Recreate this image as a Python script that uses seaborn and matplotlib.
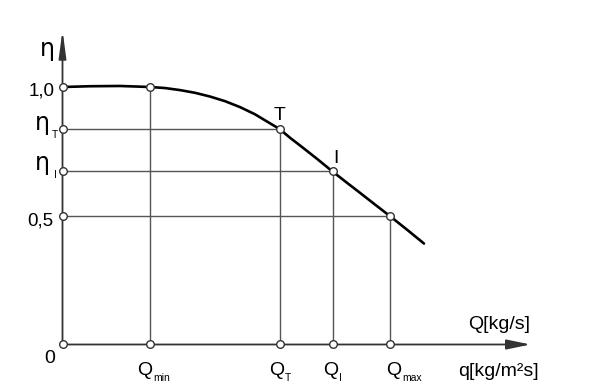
import matplotlib
matplotlib.use("Agg")
import matplotlib.pyplot as plt
import seaborn as sns
import pandas as pd

# ---- data ----
curve_q = [0.0, 0.275, 0.575, 0.875, 1.025, 1.175, 1.325, 1.475, 1.625, 1.775, 1.925, 2.045,
           2.17, 2.275, 2.405, 2.555, 2.70, 2.845, 2.985, 3.125, 3.27, 3.445, 3.615]
curve_eta = [1.0, 1.003, 1.004, 1.0, 0.996, 0.988, 0.9775, 0.963, 0.945, 0.922, 0.894, 0.866,
             0.837, 0.803, 0.764, 0.718, 0.672, 0.628, 0.586, 0.5435, 0.5, 0.446, 0.392]

point_q = [0.875, 2.17, 2.70, 3.27]          # Qmin, QT, QI, Qmax
point_eta = [1.0, 0.837, 0.672, 0.5]          # eta at those points
q_subs = ["min", "T", "I", "max"]

x_axis_end = 4.68
y_axis_end = 1.221

sns.set_style("white")
plt.rcParams["font.family"] = ["Liberation Sans", "DejaVu Sans"]

fig = plt.figure(figsize=(6.05, 3.91), dpi=100)
ax = fig.add_axes([0, 0, 1, 1])

guide = "#555555"
ax.vlines(point_q, 0, point_eta, color=guide, lw=1.0, zorder=1)
ax.hlines(point_eta[1:], 0, point_q[1:], color=guide, lw=1.0, zorder=1)

axc = "#333333"
ax.annotate("", xy=(x_axis_end, 0), xytext=(0, 0),
            arrowprops=dict(arrowstyle="-|>,head_length=1.45,head_width=0.30",
                            color=axc, lw=1.3, shrinkA=0, shrinkB=0), zorder=2)
ax.annotate("", xy=(0, y_axis_end), xytext=(0, 0),
            arrowprops=dict(arrowstyle="-|>,head_length=1.65,head_width=0.22",
                            color=axc, lw=1.3, shrinkA=0, shrinkB=0), zorder=2)

df = pd.DataFrame({"Q": curve_q, "eta": curve_eta})
sns.lineplot(data=df, x="Q", y="eta", sort=False, estimator=None, color="black",
             lw=1.9, ax=ax, zorder=3)

mx = [0, 0, 0, 0, 0] + point_q + point_q
my = [0] + point_eta + [0, 0, 0, 0] + point_eta
mdf = pd.DataFrame({"x": mx, "y": my})
sns.scatterplot(data=mdf, x="x", y="y", s=30, color="white", edgecolor="#333333",
                linewidth=1.0, ax=ax, zorder=5, legend=False)

ax.set_xlim(-0.625, 5.425)
ax.set_ylim(-0.1806, 1.3379)
ax.axis("off")

def lab(s, xy, dx, dy, size, ha="left", family=None):
    kw = {}
    if family:
        kw["family"] = family
    ax.annotate(s, xy=xy, xytext=(dx, dy), textcoords="offset pixels",
                ha=ha, va="baseline", fontsize=size, color="black", **kw)

eta_fam = ["DejaVu Sans"]
lab("η", (0, 1.0), -15.5, 31.4, 17, ha="center", family=eta_fam)
lab("1,0", (0, 1.0), -7.5, -8, 13.5, ha="right")
lab("η", (0, point_eta[1]), -20.5, -1.3, 17, ha="center", family=eta_fam)
lab("T", (0, point_eta[1]), -8, -9, 7.5, ha="center")
lab("η", (0, point_eta[2]), -20.5, 1.2, 17, ha="center", family=eta_fam)
lab("I", (0, point_eta[2]), -7.5, -6.5, 7.5, ha="center")
lab("0,5", (0, 0.5), -9.5, -9.25, 13.5, ha="right")
lab("0", (0, 0), -7.5, -18.5, 14, ha="right")

lab("T", (point_q[1], point_eta[1]), 0.5, 9, 14, ha="center")
lab("I", (point_q[2], point_eta[2]), 3, 8.5, 14, ha="center")

q_dx = [-13, -10.5, -9.5, -3.5]
for q, sub, dx in zip(point_q, q_subs, q_dx):
    lab("Q", (q, 0), dx, -30.5, 14)
    lab(sub, (q, 0), dx + 16, -37, 7.5)

lab("Q[kg/s]", (x_axis_end, 0), -0.5, 15.5, 14, ha="right")
lab("q[kg/m²s]", (x_axis_end, 0), -72.5, -32, 14)

fig.savefig("out.png", dpi=100)
